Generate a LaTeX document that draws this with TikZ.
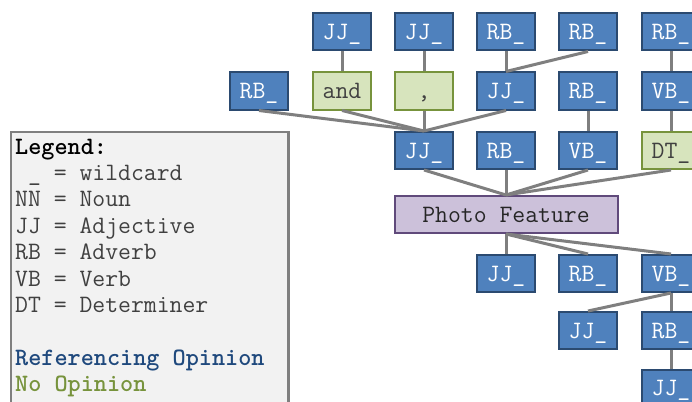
\documentclass[tikz,border=0pt]{standalone}
\usepackage{fontspec}
\definecolor{tagblue}{HTML}{4F81BD}
\definecolor{tagborder}{HTML}{2B4A70}
\definecolor{nofill}{HTML}{D7E4BD}
\definecolor{noborder}{HTML}{77933C}
\definecolor{featfill}{HTML}{CCC1DA}
\definecolor{featborder}{HTML}{604A7B}
\definecolor{linkgray}{HTML}{7F7F7F}
\definecolor{legfill}{HTML}{F2F2F2}
\definecolor{legtext}{HTML}{404040}
\definecolor{refblue}{HTML}{1F497D}
\definecolor{nogreen}{HTML}{77933C}
\begin{document}
\begin{tikzpicture}[x=1pt,y=-1pt,
    mono/.style={font=\ttfamily\fontsize{25}{26}\selectfont},
    tag/.style={mono,draw=tagborder,fill=tagblue,text=white,line width=2pt,
      minimum width=58pt,minimum height=37pt,inner sep=0pt,text height=15pt,text depth=0pt},
    notag/.style={tag,draw=noborder,fill=nofill,text=legtext},
    feat/.style={tag,draw=featborder,fill=featfill,text=black!85,minimum width=223pt},
    link/.style={draw=linkgray,line width=3pt},
    legline/.style={mono,anchor=base west,inner sep=0pt,text=legtext}]
        \useasboundingbox (0,0) rectangle (692,401);
        \clip (0,0) rectangle (692,401);

        % legend box
        \draw[draw=linkgray,fill=legfill,line width=2.5pt] (11,132) rectangle (288.5,420);
        \node[legline,text=black] (legTitle) at (15,154) {\textbf{Legend:}};
        \node[legline] (legWild) at (15,180.4) {\ \_ = wildcard};
        \node[legline] (legNN) at (15,206.8) {NN = Noun};
        \node[legline] (legJJ) at (15,233.2) {JJ = Adjective};
        \node[legline] (legRB) at (15,259.6) {RB = Adverb};
        \node[legline] (legVB) at (15,286) {VB = Verb};
        \node[legline] (legDT) at (15,312.4) {DT = Determiner};
        \node[legline,text=refblue] (legRef) at (15,365.2) {\textbf{Referencing Opinion}};
        \node[legline,text=nogreen] (legNo) at (15,391.6) {\textbf{No Opinion}};

        % top row
        \node[tag] (jjTopA) at (342,32) {JJ\_};
        \node[tag] (jjTopB) at (424,32) {JJ\_};
        \node[tag] (rbTopA) at (506,32) {RB\_};
        \node[tag] (rbTopB) at (588,32) {RB\_};
        \node[tag] (rbTopC) at (671,32) {RB\_};

        % second row
        \node[tag] (rbSide) at (259,91) {RB\_};
        \node[notag] (andW) at (342,91) {and};
        \node[notag] (comma) at (424,91) {,};
        \node[tag] (jjMid) at (506,91) {JJ\_};
        \node[tag] (rbMid) at (588,91) {RB\_};
        \node[tag] (vbMid) at (671,91) {VB\_};

        % row above the feature
        \node[tag] (jjNear) at (424,150.5) {JJ\_};
        \node[tag] (rbNear) at (506,150.5) {RB\_};
        \node[tag] (vbNear) at (588,150.5) {VB\_};
        \node[notag] (dtNear) at (671,150.5) {DT\_};

        % the feature
        \node[feat] (feat) at (506,214.5) {Photo Feature};

        % rows below the feature
        \node[tag] (jjLow) at (506,273.5) {JJ\_};
        \node[tag] (rbLow) at (588,273.5) {RB\_};
        \node[tag] (vbLow) at (671,273.5) {VB\_};
        \node[tag] (jjDeep) at (588,330.5) {JJ\_};
        \node[tag] (rbDeep) at (671,330.5) {RB\_};
        \node[tag] (jjEnd) at (671,388) {JJ\_};

        % links
        \draw[link] (jjTopA.south) -- (andW.north);
        \draw[link] (jjTopB.south) -- (comma.north);
        \draw[link] (rbTopA.south) -- (jjMid.north);
        \draw[link] (rbTopB.south) -- (jjMid.north);
        \draw[link] (rbTopC.south) -- (vbMid.north);
        \draw[link] (rbSide.south) -- (jjNear.north);
        \draw[link] (andW.south) -- (jjNear.north);
        \draw[link] (comma.south) -- (jjNear.north);
        \draw[link] (jjMid.south) -- (jjNear.north);
        \draw[link] (rbMid.south) -- (vbNear.north);
        \draw[link] (vbMid.south) -- (dtNear.north);
        \draw[link] (jjNear.south) -- (feat.north);
        \draw[link] (rbNear.south) -- (feat.north);
        \draw[link] (vbNear.south) -- (feat.north);
        \draw[link] (dtNear.south) -- (feat.north);
        \draw[link] (feat.south) -- (jjLow.north);
        \draw[link] (feat.south) -- (rbLow.north);
        \draw[link] (feat.south) -- (vbLow.north);
        \draw[link] (vbLow.south) -- (jjDeep.north);
        \draw[link] (vbLow.south) -- (rbDeep.north);
        \draw[link] (rbDeep.south) -- (jjEnd.north);
\end{tikzpicture}
\end{document}
